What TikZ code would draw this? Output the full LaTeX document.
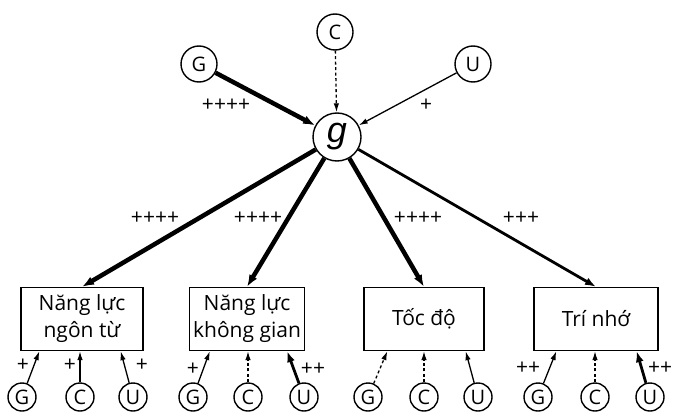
\documentclass[tikz,border=0pt]{standalone}
\usepackage{fontspec}
\setmainfont{Open Sans}
\newfontfamily\gfont{Liberation Sans}
\usetikzlibrary{arrows.meta}

\begin{document}
\begin{tikzpicture}[
    x=1pt, y=-1pt,
    factor/.style={circle, draw, line width=1.4pt, inner sep=0pt,
        minimum size=28pt, font=\fontsize{20}{20}\selectfont},
    bigfactor/.style={factor, minimum size=36pt},
    ability/.style={rectangle, draw, line width=1.3pt, minimum height=63pt,
        align=center, font=\fontsize{21}{27}\selectfont},
    weight/.style={inner sep=0pt, font=\fontsize{21}{21}\selectfont},
    link/.style={-{Latex[length=9pt,width=5.5pt]}, line width=1.3pt},
    medium/.style={-{Latex[length=11pt,width=8pt]}, line width=2.8pt},
    heavy/.style={-{Latex[length=12pt,width=9pt]}, line width=4.5pt},
    faint/.style={link, dash pattern=on 3pt off 2.5pt}
]
    \useasboundingbox (0,0) rectangle (676,417);

    % general factor g and its three sources
    \node[factor, minimum size=48pt, font=\fontsize{36}{36}\gfont\itshape] (g) at (337,137) {g};
    \node[bigfactor] (Gt) at (199,64) {G};
    \node[bigfactor] (Ct) at (335,32) {C};
    \node[bigfactor] (Ut) at (473,64) {U};

    \draw[heavy] (Gt) -- (g);
    \draw[faint] (Ct) -- (g);
    \draw[link] (Ut) -- (g);
    \node[weight] (wGt) at (226,105) {++++};
    \node[weight] (wUt) at (426,105) {+};

    % the four abilities
    \node[ability, minimum width=122pt] (verbal) at (82,319) {Năng lực\\ngôn từ};
    \node[ability, minimum width=115pt] (spatial) at (247,319) {Năng lực\\không gian};
    \node[ability, minimum width=120pt] (speed) at (424,319) {Tốc độ};
    \node[ability, minimum width=124pt] (memory) at (596,319) {Trí nhớ};

    \draw[heavy] (g) -- (verbal.north);
    \draw[heavy] (g) -- (spatial.north);
    \draw[heavy] (g) -- (speed.north);
    \draw[medium] (g) -- (memory.north);
    \node[weight] (wverbal) at (155,218) {++++};
    \node[weight] (wspatial) at (258,218) {++++};
    \node[weight] (wspeed) at (418,218) {++++};
    \node[weight] (wmemory) at (521,218) {+++};

    % G, C, U under each ability
    \node[factor] (G1) at (22,397) {G};
    \node[factor] (C1) at (80,397) {C};
    \node[factor] (U1) at (133,397) {U};
    \node[factor] (G2) at (193,397) {G};
    \node[factor] (C2) at (248,397) {C};
    \node[factor] (U2) at (304,397) {U};
    \node[factor] (G3) at (368,397) {G};
    \node[factor] (C3) at (424,397) {C};
    \node[factor] (U3) at (478,397) {U};
    \node[factor] (G4) at (538,397) {G};
    \node[factor] (C4) at (595,397) {C};
    \node[factor] (U4) at (650,397) {U};

    \draw[link] (G1) -- ([xshift=19pt]verbal.south west);
    \draw[link] (C1) -- (C1 |- verbal.south);
    \draw[link] (U1) -- ([xshift=-23pt]verbal.south east);
    \node[weight] (wG1) at (23,365) {+};
    \node[weight] (wC1) at (70,365) {+};
    \node[weight] (wU1) at (142,365) {+};

    \draw[link] (G2) -- ([xshift=21pt]spatial.south west);
    \draw[faint] (C2) -- (C2 |- spatial.south);
    \draw[medium] (U2) -- ([xshift=-18pt]spatial.south east);
    \node[weight] (wG2) at (193,369) {+};
    \node[weight] (wU2) at (313,369) {++};

    \draw[faint] (G3) -- ([xshift=24pt]speed.south west);
    \draw[faint] (C3) -- (C3 |- speed.south);
    \draw[link] (U3) -- ([xshift=-19pt]speed.south east);

    \draw[link] (G4) -- ([xshift=23pt]memory.south west);
    \draw[faint] (C4) -- (C4 |- memory.south);
    \draw[medium] (U4) -- ([xshift=-22pt]memory.south east);
    \node[weight] (wG4) at (528,368) {++};
    \node[weight] (wU4) at (660,368) {++};
\end{tikzpicture}
\end{document}
